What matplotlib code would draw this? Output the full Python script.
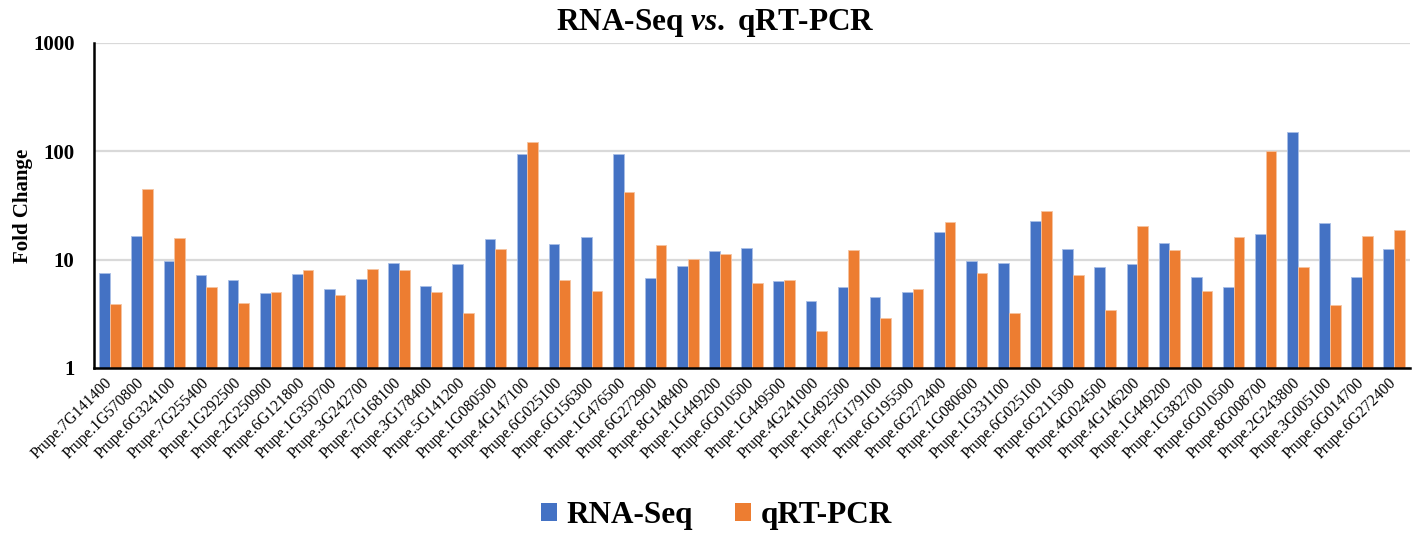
import matplotlib
matplotlib.use("Agg")
import matplotlib.pyplot as plt
import matplotlib.transforms as mtransforms
import numpy as np
from matplotlib.patches import Patch

genes = ["Prupe.7G141400", "Prupe.1G570800", "Prupe.6G324100", "Prupe.7G255400",
         "Prupe.1G292500", "Prupe.2G250900", "Prupe.6G121800", "Prupe.1G350700",
         "Prupe.3G242700", "Prupe.7G168100", "Prupe.3G178400", "Prupe.5G141200",
         "Prupe.1G080500", "Prupe.4G147100", "Prupe.6G025100", "Prupe.6G156300",
         "Prupe.1G476500", "Prupe.6G272900", "Prupe.8G148400", "Prupe.1G449200",
         "Prupe.6G010500", "Prupe.1G449500", "Prupe.4G241000", "Prupe.1G492500",
         "Prupe.7G179100", "Prupe.6G195500", "Prupe.6G272400", "Prupe.1G080600",
         "Prupe.1G331100", "Prupe.6G025100", "Prupe.6G211500", "Prupe.4G024500",
         "Prupe.4G146200", "Prupe.1G449200", "Prupe.1G382700", "Prupe.6G010500",
         "Prupe.8G008700", "Prupe.2G243800", "Prupe.3G005100", "Prupe.6G014700",
         "Prupe.6G272400"]

rna_seq = [7.6, 16.5, 9.75, 7.2, 6.43, 4.88, 7.35, 5.38, 6.61, 9.29, 5.7, 9.15,
           15.5, 94, 13.9, 16.2, 94, 6.74, 8.81, 11.9, 12.7, 6.41, 4.14, 5.57,
           4.5, 5.04, 17.9, 9.8, 9.27, 22.7, 12.6, 8.51, 9.13, 14.3, 6.93, 5.57,
           17.4, 152, 21.8, 6.93, 12.4]

qrt_pcr = [3.9, 44.7, 15.9, 5.55, 4.0, 5.05, 8.0, 4.71, 8.17, 7.95, 4.99, 3.19,
           12.6, 122, 6.55, 5.15, 41.8, 13.6, 10.2, 11.3, 6.06, 6.45, 2.19, 12.2,
           2.89, 5.37, 22.1, 7.55, 3.21, 28.1, 7.18, 3.42, 20.6, 12.2, 5.12, 16.2,
           100, 8.51, 3.85, 16.4, 18.7]

series_names = ["RNA-Seq", "qRT-PCR"]
colors = ["#4472C4", "#ED7D31"]

plt.rcParams['font.family'] = ['Liberation Serif', 'DejaVu Serif']
plt.rcParams['mathtext.fontset'] = 'custom'
plt.rcParams['mathtext.rm'] = 'Liberation Serif:bold'
plt.rcParams['mathtext.it'] = 'Liberation Serif:italic:bold'
plt.rcParams['mathtext.bf'] = 'Liberation Serif:bold'

fig = plt.figure(figsize=(14.13, 5.34), dpi=100)
ax = fig.add_axes([0.0665, 0.311, 0.9315, 0.6085])

x = np.arange(len(genes))
w = 1.0 / 3
ax.bar(x - w / 2, rna_seq, width=w, color=colors[0], edgecolor="#a9bfe6",
       linewidth=0.6, zorder=3, log=True)
ax.bar(x + w / 2, qrt_pcr, width=w, color=colors[1], edgecolor="#f6c3a0",
       linewidth=0.6, zorder=3, log=True)

ax.set_yscale('log')
ax.set_ylim(1, 1000)
ax.set_xlim(-0.5, len(genes) - 0.5)
ax.set_yticks([1, 10, 100, 1000])
ax.set_yticklabels(["1", "10", "100", "1000"], fontsize=15, fontweight='bold')
ax.yaxis.set_minor_locator(matplotlib.ticker.NullLocator())
ax.tick_params(axis='y', length=0, pad=14)
ax.tick_params(axis='x', length=0, pad=9)
ax.set_xticks(x)
ax.set_xticklabels(genes, rotation=45, ha='right', va='center',
                   rotation_mode='anchor', fontsize=11.3)

ax.grid(axis='y', color='#d9d9d9', linewidth=1.6, zorder=0)
ax.set_axisbelow(True)
for s in ['top', 'right']:
    ax.spines[s].set_visible(False)
ax.spines['left'].set_linewidth(1.8)
ax.spines['bottom'].set_linewidth(1.8)
ax.spines['left'].set_zorder(5)
ax.spines['bottom'].set_zorder(5)

ax.set_ylabel("Fold Change", fontsize=15, fontweight='bold')
ax.yaxis.set_label_coords(33, 0.5, transform=mtransforms.blended_transform_factory(
    mtransforms.IdentityTransform(), ax.transAxes))

fig.text(0.506, 0.957, r"RNA-Seq $\mathit{vs.}$ qRT-PCR", ha='center', va='center',
         fontsize=22.5, fontweight='bold')

handles = [Patch(facecolor=c, label=n) for c, n in zip(colors, series_names)]
fig.legend(handles=handles, loc='center', bbox_to_anchor=(0.507, 0.035), ncol=2,
           frameon=False, prop={'size': 22.5, 'weight': 'bold'},
           handlelength=0.52, handleheight=0.52, handletextpad=0.3,
           columnspacing=1.35)

fig.savefig("out.png", dpi=100)
